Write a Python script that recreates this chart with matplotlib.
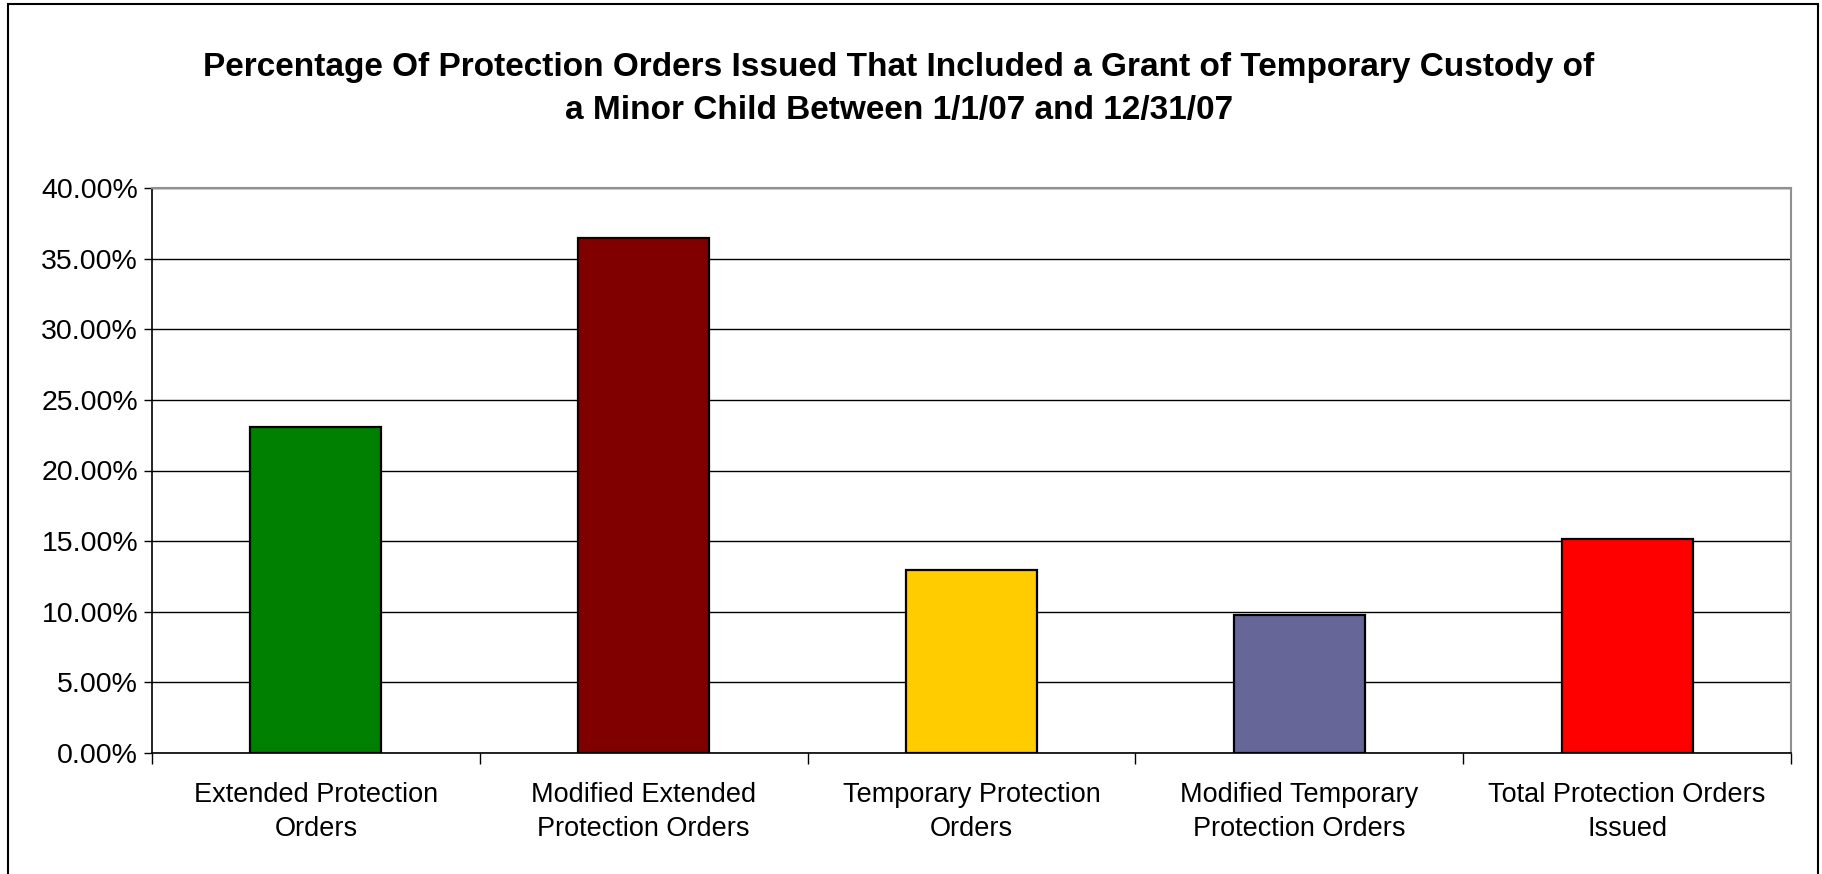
import numpy as np
import matplotlib.pyplot as plt
from matplotlib.ticker import PercentFormatter, FixedLocator
from matplotlib.patches import Rectangle

plt.rcParams['font.family'] = ['Liberation Sans', 'DejaVu Sans']

# Data
categories = ["Extended Protection\nOrders",
              "Modified Extended\nProtection Orders",
              "Temporary Protection\nOrders",
              "Modified Temporary\nProtection Orders",
              "Total Protection Orders\nIssued"]
percentages = [23.07, 36.44, 12.97, 9.79, 15.16]
bar_colors = ["#008000", "#800000", "#FFCC00", "#666699", "#FF0000"]
y_ticks = [0, 5, 10, 15, 20, 25, 30, 35, 40]

fig = plt.figure(figsize=(18.22, 8.74), dpi=100)
ax = fig.add_axes([152/1822, 1 - 753/874, (1791-152)/1822, (753-188)/874])

x = np.arange(len(categories))
ax.bar(x, percentages, width=0.40, color=bar_colors, edgecolor="black",
       linewidth=1.6, zorder=3)

# Axes setup
ax.set_xlim(-0.5, len(categories) - 0.5)
ax.set_ylim(0, 40)
ax.set_yticks(y_ticks)
ax.yaxis.set_major_formatter(PercentFormatter(decimals=2))
ax.grid(axis="y", color="black", linewidth=1.0, zorder=0)
ax.set_axisbelow(True)

ax.set_xticks(x)
ax.set_xticklabels(categories, fontsize=19.5, linespacing=1.38)
ax.xaxis.set_minor_locator(FixedLocator(np.arange(-0.5, len(categories), 1.0)))
ax.tick_params(axis="x", which="major", length=0, pad=21)
ax.tick_params(axis="x", which="minor", length=8, width=1, color="black")
ax.tick_params(axis="y", length=6, width=1, labelsize=20.5, pad=4)

ax.spines["left"].set_color("black")
ax.spines["bottom"].set_color("black")
ax.spines["left"].set_linewidth(1.2)
ax.spines["bottom"].set_linewidth(1.2)
ax.spines["top"].set_color("#909090")
ax.spines["right"].set_color("#909090")
ax.spines["top"].set_linewidth(1.5)
ax.spines["right"].set_linewidth(1.5)

fig.text(899/1822, 1 - 89/874,
         "Percentage Of Protection Orders Issued That Included a Grant of Temporary Custody of\n"
         "a Minor Child Between 1/1/07 and 12/31/07",
         ha="center", va="center", fontsize=24, fontweight="bold", linespacing=1.5)

# Outer chart border
fig.patches.append(Rectangle((8/1822, -0.05), (1818-8)/1822, 1.05 - 4/874,
                             transform=fig.transFigure, fill=False,
                             edgecolor="black", linewidth=1.5))

fig.savefig("out.png", dpi=100)
